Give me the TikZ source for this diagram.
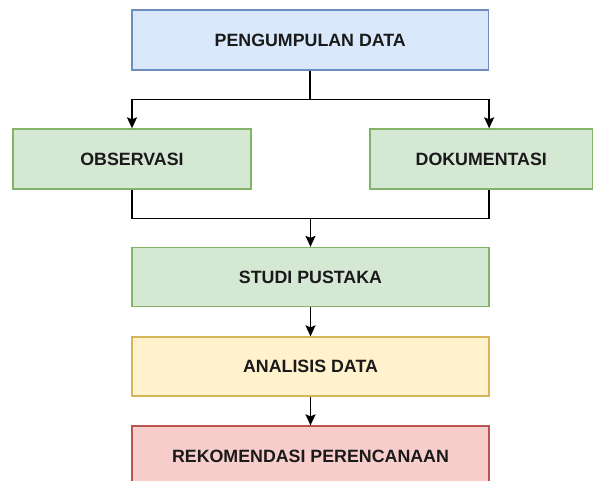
\documentclass[tikz,border=0pt]{standalone}
\usepackage{fontspec}
\setmainfont{Liberation Sans}
\usetikzlibrary{arrows.meta,calc}
\definecolor{bluefill}{HTML}{DAE8FC}\definecolor{bluedraw}{HTML}{6C8EBF}
\definecolor{greenfill}{HTML}{D5E8D4}\definecolor{greendraw}{HTML}{82B366}
\definecolor{yellowfill}{HTML}{FFF2CC}\definecolor{yellowdraw}{HTML}{D6B656}
\definecolor{redfill}{HTML}{F8CECC}\definecolor{reddraw}{HTML}{B85450}
\definecolor{txt}{HTML}{1A1A1A}
\tikzset{
  box/.style={rectangle, line width=1.3pt, minimum height=60pt, inner sep=0pt,
    font=\fontsize{17.8}{20}\selectfont\bfseries, text=txt},
  bluebox/.style={box, fill=bluefill, draw=bluedraw},
  greenbox/.style={box, fill=greenfill, draw=greendraw},
  yellowbox/.style={box, fill=yellowfill, draw=yellowdraw},
  redbox/.style={box, fill=redfill, draw=reddraw},
  conn/.style={line width=1.6pt, draw=black},
  arr/.style={conn, -{Stealth[length=11pt,width=10pt,inset=2pt]}}
}
\begin{document}
\begin{tikzpicture}[x=1pt,y=-1pt]
\useasboundingbox (0,0) rectangle (595,481);
\node[bluebox, minimum width=356.5pt] (top) at (310.25,40) {PENGUMPULAN DATA};
\node[greenbox, minimum width=238pt] (obs) at (132,159) {OBSERVASI};
\node[greenbox, minimum width=222.5pt] (dok) at (481.25,159) {DOKUMENTASI};
\node[greenbox, minimum width=357pt, minimum height=59pt] (studi) at (310.5,277) {STUDI PUSTAKA};
\node[yellowbox, minimum width=357pt, minimum height=59pt] (ana) at (310.5,366.5) {ANALISIS DATA};
\node[redbox, minimum width=357pt] (rek) at (310.5,456) {REKOMENDASI PERENCANAAN};
\coordinate (split) at ($(top.south)+(0,29)$);
\coordinate (merge) at ($(obs.south)+(0,29)$);
\draw[conn] (top.south) -- (split);
\draw[arr] (split) -| (obs.north);
\draw[arr] (split) -| (dok.north -| top.east);
\draw[conn] (obs.south) -- (merge) -| (dok.south -| top.east);
\draw[arr] (merge -| studi.north) -- (studi.north);
\draw[arr] (studi.south) -- (ana.north);
\draw[arr] (ana.south) -- (rek.north);
\end{tikzpicture}
\end{document}
